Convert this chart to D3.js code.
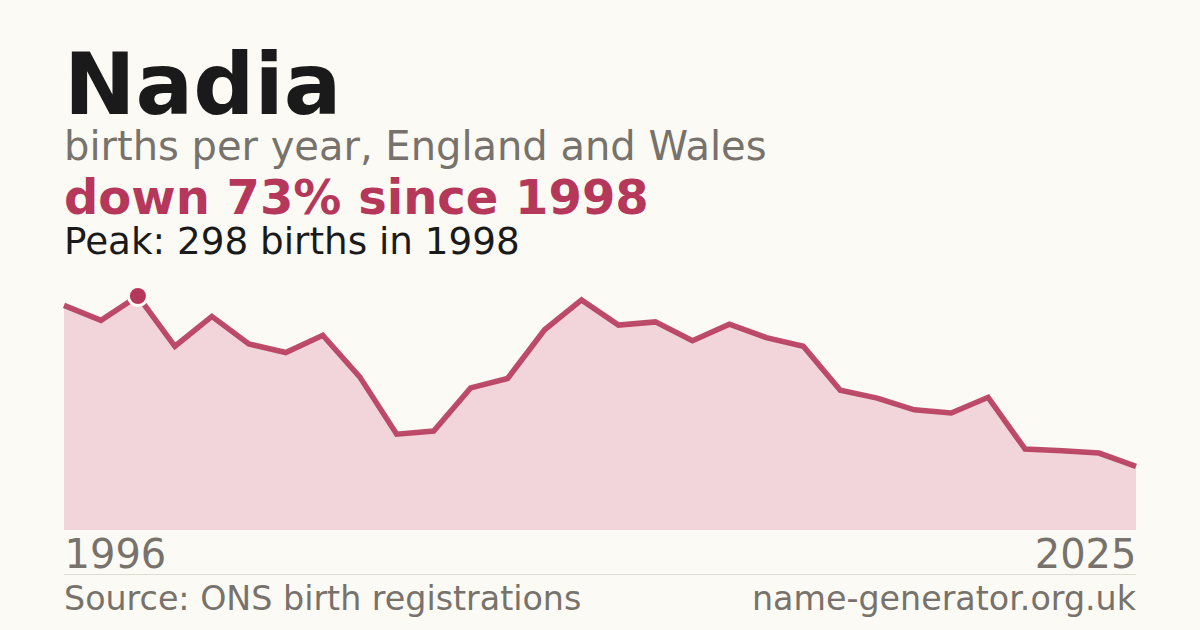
<!DOCTYPE html>
<html>
<head>
<meta charset="utf-8">
<script src="https://cdn.jsdelivr.net/npm/d3@7"></script>
<style>
  html, body { margin: 0; padding: 0; background: #fbfaf5; }
  svg { display: block; font-family: "DejaVu Sans", sans-serif; }
</style>
</head>
<body>
<div id="chart"></div>
<script>
// births per year for "Nadia", England and Wales
const years = d3.range(1996, 2026);
const births = [
  286, 267, 298, 234, 272, 237, 226, 248, 195, 122,
  126, 181, 193, 255, 293, 261, 265, 241, 262, 245,
  234, 178, 168, 153, 149, 169, 103, 101, 98, 81
];
const axisLabels = ["1996", "2025"];

const width = 1200;
const height = 630;
const marginLeft = 64;
const marginRight = 64;
const plotTop = 296;
const plotBottom = 530;

const lineColour = "#b5385a";
const fillColour = "#f2d5da";
const greyText = "#77726b";

const data = years.map((year, i) => ({ year, value: births[i] }));
const peak = data.reduce((a, b) => (b.value > a.value ? b : a));
const last = data[data.length - 1];
const drop = Math.round((1 - last.value / peak.value) * 100);

const svg = d3
  .select("#chart")
  .append("svg")
  .attr("width", width)
  .attr("height", height)
  .attr("viewBox", [0, 0, width, height]);

svg.append("rect").attr("width", width).attr("height", height).attr("fill", "#fbfaf5");

const x = d3.scaleLinear([years[0], years[years.length - 1]], [marginLeft, width - marginRight]);
const y = d3.scaleLinear([0, peak.value], [plotBottom, plotTop]);

// header text
svg.append("text")
  .attr("x", marginLeft).attr("y", 114)
  .attr("font-size", 85.5).attr("font-weight", "bold").attr("fill", "#1a1a1a")
  .text("Nadia");

svg.append("text")
  .attr("x", marginLeft).attr("y", 160)
  .attr("font-size", 40).attr("fill", greyText)
  .text("births per year, England and Wales");

svg.append("text")
  .attr("x", marginLeft).attr("y", 214)
  .attr("font-size", 48).attr("font-weight", "bold").attr("fill", lineColour)
  .text(`down ${drop}% since ${peak.year}`);

svg.append("text")
  .attr("x", marginLeft).attr("y", 254)
  .attr("font-size", 37.3).attr("fill", "#1a1a1a")
  .text(`Peak: ${peak.value} births in ${peak.year}`);

// area + line
const area = d3.area().x((d) => x(d.year)).y0(plotBottom).y1((d) => y(d.value));
const line = d3.line().x((d) => x(d.year)).y((d) => y(d.value));

svg.append("path").datum(data).attr("d", area).attr("fill", fillColour);

svg.append("path")
  .datum(data)
  .attr("d", line)
  .attr("fill", "none")
  .attr("stroke", lineColour)
  .attr("stroke-opacity", 0.9)
  .attr("stroke-width", 5.5);

// peak marker
svg.append("circle")
  .attr("cx", x(peak.year)).attr("cy", y(peak.value))
  .attr("r", 9.5)
  .attr("fill", lineColour)
  .attr("stroke", "#fbfaf5")
  .attr("stroke-width", 3);

// x-axis end labels
const xAxis = d3.axisBottom(x)
  .tickValues([years[0], years[years.length - 1]])
  .tickFormat((d, i) => axisLabels[i])
  .tickSize(0);

svg.append("g")
  .attr("transform", `translate(0,${plotBottom})`)
  .call(xAxis)
  .call((g) => g.select(".domain").remove())
  .call((g) =>
    g.selectAll(".tick text")
      .attr("y", 38)
      .attr("dy", 0)
      .attr("font-size", 40)
      .attr("font-family", "DejaVu Sans, sans-serif")
      .attr("fill", greyText)
      .attr("text-anchor", (d, i) => (i === 0 ? "start" : "end"))
  );

// footer
svg.append("line")
  .attr("x1", marginLeft).attr("x2", width - marginRight)
  .attr("y1", 574.5).attr("y2", 574.5)
  .attr("stroke", "#dedbd3").attr("stroke-width", 1);

svg.append("text")
  .attr("x", marginLeft).attr("y", 610)
  .attr("font-size", 33.3).attr("fill", greyText)
  .text("Source: ONS birth registrations");

svg.append("text")
  .attr("x", width - marginRight).attr("y", 610)
  .attr("text-anchor", "end")
  .attr("font-size", 33.3).attr("fill", greyText)
  .text("name-generator.org.uk");
</script>
</body>
</html>
